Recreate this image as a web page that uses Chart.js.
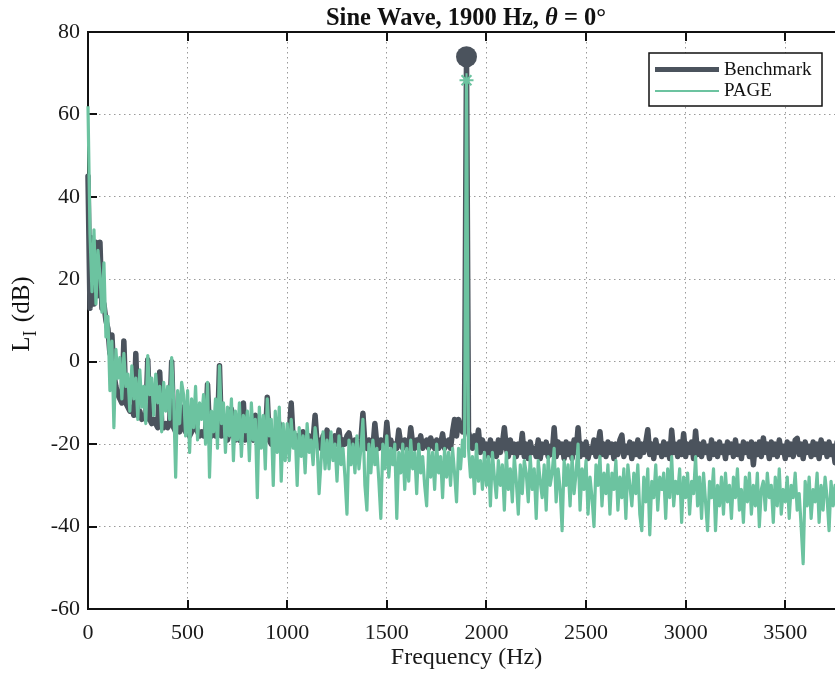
<!DOCTYPE html>
<html>
<head>
<meta charset="utf-8">
<script src="https://cdn.jsdelivr.net/npm/chart.js@4.4.1/dist/chart.umd.min.js"></script>
<style>
    html, body { margin: 0; padding: 0; background: #fff; overflow: hidden; }
    #wrap { width: 835px; height: 676px; overflow: hidden; }
    canvas { display: block; }
</style>
</head>
<body>
<div id="wrap"><canvas id="spectrumChart" width="850" height="676"></canvas></div>
<script>
// spectrum bins, 10 Hz apart, level in dB
const binStepHz = 10;

const benchmarkDb = [
    45, 13, 30, 14, 29, 16, 29, 13, 14, 10, 8, 2, 6.5, -3, -6, -8, -9, -10, 5, -10,
    -11, -12, -11, -13, 2, -13, -12, -14, -13, -14, 0.5, -14, -15, -14, -15, -16, -2.5, -15, -16, -15,
    -16, -15, 0, -16, -17, -16, -17, -16, -11, -17, -16, -18, -17, -16, -15, -17, -18, -17, -18, -17,
    -5.5, -17, -18, -17, -18, -17, -1, -18, -17, -18, -19, -17, -11.5, -18, -19, -18, -19, -18, -10, -19,
    -18, -19, -18, -19, -13, -18, -20, -19, -18, -19, -8.6, -19, -20, -18, -19, -18, -15, -19, -20, -18,
    -19, -18, -10, -19, -20, -18, -19, -21, -17, -19, -20, -18, -21, -19, -13, -20, -19, -21, -18, -20,
    -16.6, -20, -19, -21, -18, -20, -16.6, -21, -19, -20, -18, -17.3, -20, -21, -19, -20, -21, -19, -12.5, -20,
    -21, -19, -20, -21, -15, -20, -21, -19, -20, -21, -14.7, -20, -19, -21, -20, -21, -16.6, -20, -21, -19,
    -20, -21, -16, -20, -21, -19, -20, -18, -21, -20, -19, -21, -18.5, -20, -21, -19, -21, -20, -17.5, -21,
    -20, -19, -21, -17, -14, -18, -14, -16, -17, -15, 74, -17, -19, -21, -18, -20, -16.6, -22, -19, -21,
    -20, -23, -19, -22, -20, -23, -19, -22, -20, -16, -21, -23, -19, -22, -20, -23, -20, -22, -17.4, -23,
    -20, -23.5, -19.5, -22, -21, -23, -19, -23.5, -20, -22, -19.5, -23, -20.5, -22.5, -16, -23, -19.5, -22, -20, -23.5,
    -19.5, -22.5, -20, -23.5, -19, -22, -16, -23, -20, -22.5, -19.5, -23.5, -21, -22, -19, -23, -20, -17, -22.5, -20,
    -23, -19.5, -22, -20, -23.5, -20, -22.5, -19, -17.8, -23, -20.5, -22, -19.5, -23.5, -20, -22.5, -19, -23, -20, -22,
    -19.5, -16.5, -22.5, -20, -23.5, -19, -22, -20.5, -23, -19.5, -22.5, -20, -23.5, -16.6, -22, -20, -23, -19.5, -22.5, -17.5,
    -23, -20, -22, -19.5, -23.5, -16.8, -22.5, -20, -23, -19.5, -22, -20.5, -23.5, -19, -22.5, -20, -23, -19.5, -22, -20.5,
    -23.5, -19.5, -22, -20, -23, -19, -22.5, -20.5, -23.5, -19.5, -22, -20, -23, -19.5, -25, -20, -22.5, -19.5, -23, -18.5,
    -22, -20, -23.5, -19.5, -22.5, -20, -23, -19, -22, -20.5, -23.5, -19.5, -22.5, -20, -23, -19, -18.6, -22.5, -20, -23.5,
    -19.5, -22, -20.5, -23, -19.5, -22.5, -20, -23.5, -19, -22, -20, -23, -19.5, -22.5, -20.5, -24.5, -19.5, -22, -20, -23,
    -21
];

const pageDb = [
    62, 31, 17, 32, 14, 27, 21, 12, 24, 6, 11, -7, 5, -16, 3, -4, 1, -9, 2, -6,
    -3, -12, -1, -9, -4, -14, -2, -11, -6, -15, 1.5, -8, -4, -13, -3, -10, -6, -17, -5, -12,
    -6, -14, 1, -9, -28, -7, -15, -5, -8, -18, -7, -22, -9, -16, -6, -19, -10, -14, -8, -20,
    -5, -28, -12, -17, -9, -21, -1, -15, -10, -22, -11, -18, -9, -24, -12, -19, -10, -23, -13, -17,
    -12, -24, -10, -19, -14, -33, -11, -21, -13, -26, -9, -18, -14, -30, -12, -22, -11, -29, -15, -24,
    -15, -24, -14, -21, -17, -30, -16, -23, -18, -27, -15, -22, -19, -25, -16, -20, -32, -24, -17, -26,
    -19, -26, -17, -24, -20, -29, -18, -25, -21, -28, -37, -19, -25, -20, -27, -18, -26, -21, -14, -30,
    -36, -20, -27, -19, -25, -21, -29, -38, -20, -26, -18, -28, -21, -25, -20, -38, -22, -27, -20, -31,
    -21, -29, -19, -26, -22, -32, -20, -27, -23, -30, -35, -21, -28, -22, -31, -20, -27, -23, -33, -21,
    -28, -22, -30, -21, -27, -34, -21, -26, -19, -23, 68.3, -21, -28, -23, -32, -20, -29, -24, -31, -22,
    -30, -23, -35, -22, -28, -33, -24, -30, -25, -36, -22, -31, -26, -34, -23, -29, -37, -25, -32, -24,
    -27, -34, -23, -31, -26, -38, -24, -29, -33, -25, -36, -23, -30, -27, -21, -34, -26, -31, -41, -24,
    -30, -25, -35, -23, -32, -27, -20, -36, -26, -31, -24, -37, -28, -33, -40, -25, -30, -23, -35, -27,
    -32, -25, -37, -27, -31, -24, -36, -28, -33, -26, -38, -25, -30, -35, -27, -32, -25, -37, -41, -28,
    -34, -26, -42, -29, -33, -25, -36, -28, -31, -27, -38, -26, -33, -23, -35, -29, -32, -26, -39, -28,
    -33, -27, -37, -29, -32, -23, -35, -28, -38, -27, -34, -41, -29, -33, -26, -41, -30, -35, -28, -37,
    -27, -34, -30, -38, -28, -33, -26, -36, -31, -39, -28, -34, -27, -37, -30, -35, -27, -40, -31, -29,
    -36, -27, -33, -30, -39, -28, -35, -26, -37, -31, -34, -28, -38, -30, -33, -27, -36, -32, -40, -49,
    -29, -35, -28, -38, -31, -34, -27, -39, -30, -36, -28, -33, -41, -29, -35, -30, -37, -28, -34, -31,
    -33
];

const freqHz = benchmarkDb.map((_, i) => i * binStepHz);
const peakHz = 1900;

// axis ticks
const xTickValues = [0, 500, 1000, 1500, 2000, 2500, 3000, 3500];
const yTickValues = [-60, -40, -20, 0, 20, 40, 60, 80];

const serif = '"Liberation Serif", "Times New Roman", serif';
const darkColor = '#4b535d';
const greenColor = '#6cc3a0';

document.addEventListener('DOMContentLoaded', function() {
    const canvas = document.getElementById('spectrumChart');
    const ctx = canvas.getContext('2d');

    // frame, inward ticks, title, y label and legend
    const framePlugin = {
        id: 'framePlugin',
        beforeDatasetsDraw: function(chart) {
            const c = chart.ctx;
            const a = chart.chartArea;
            const x = chart.scales.x;
            const y = chart.scales.y;
            c.save();
            c.strokeStyle = '#111';
            c.lineWidth = 2;
            c.beginPath();
            c.moveTo(a.left, a.top);
            c.lineTo(a.right, a.top);
            xTickValues.forEach(function(v) {
                const px = Math.round(x.getPixelForValue(v));
                c.moveTo(px, a.bottom);
                c.lineTo(px, a.bottom - 9);
                c.moveTo(px, a.top);
                c.lineTo(px, a.top + 9);
            });
            yTickValues.forEach(function(v) {
                const py = Math.round(y.getPixelForValue(v));
                c.moveTo(a.left, py);
                c.lineTo(a.left + 9, py);
            });
            c.stroke();
            c.restore();
        },
        afterDraw: function(chart) {
            const c = chart.ctx;
            c.save();
            c.fillStyle = '#111';
            c.textBaseline = 'alphabetic';

            // title with italic theta
            const parts = [
                ['Sine Wave, 1900 Hz, ', 'bold'],
                ['\u03b8', 'italic bold'],
                [' = 0\u00b0', 'bold']
            ];
            let total = 0;
            parts.forEach(function(p) {
                c.font = p[1] + ' 24.5px ' + serif;
                total += c.measureText(p[0]).width;
            });
            let tx = 466 - total / 2;
            parts.forEach(function(p) {
                c.font = p[1] + ' 24.5px ' + serif;
                c.textAlign = 'left';
                c.fillText(p[0], tx, 25);
                tx += c.measureText(p[0]).width;
            });

            // y axis label L_I (dB)
            c.save();
            c.translate(29, 314);
            c.rotate(-Math.PI / 2);
            c.font = '25px ' + serif;
            const wL = c.measureText('L').width;
            c.font = '18px ' + serif;
            const wI = c.measureText('I').width + 2;
            c.font = '25px ' + serif;
            const wRest = c.measureText(' (dB)').width;
            let lx = -(wL + wI + wRest) / 2;
            c.textAlign = 'left';
            c.fillText('L', lx, 0);
            lx += wL;
            c.font = '18px ' + serif;
            c.fillText('I', lx, 7);
            lx += wI;
            c.font = '25px ' + serif;
            c.fillText(' (dB)', lx, 0);
            c.restore();

            // legend box
            const bx = 649, by = 53, bw = 173, bh = 53;
            c.fillStyle = '#fff';
            c.fillRect(bx, by, bw, bh);
            c.strokeStyle = '#111';
            c.lineWidth = 1.5;
            c.strokeRect(bx, by, bw, bh);
            c.lineCap = 'butt';
            c.strokeStyle = darkColor;
            c.lineWidth = 5;
            c.beginPath();
            c.moveTo(655, 69.5);
            c.lineTo(719, 69.5);
            c.stroke();
            c.strokeStyle = greenColor;
            c.lineWidth = 2;
            c.beginPath();
            c.moveTo(655, 91);
            c.lineTo(719, 91);
            c.stroke();
            c.fillStyle = '#111';
            c.font = '19px ' + serif;
            c.textAlign = 'left';
            c.textBaseline = 'middle';
            c.fillText('Benchmark', 724, 70);
            c.fillText('PAGE', 724, 91);
            c.restore();
        }
    };

    // 차트 생성
    new Chart(ctx, {
        type: 'line',
        data: {
            datasets: [
                {
                    label: 'PAGE',
                    data: freqHz.map(function(f, i) { return { x: f, y: pageDb[i] }; }),
                    borderColor: greenColor,
                    backgroundColor: greenColor,
                    borderWidth: 3.2,
                    borderJoinStyle: 'round',
                    pointStyle: 'star',
                    pointRadius: function(c) { return freqHz[c.dataIndex] === peakHz ? 7 : 0; },
                    pointBorderColor: greenColor,
                    pointBorderWidth: 2,
                    tension: 0,
                    clip: false,
                    order: 0
                },
                {
                    label: 'Benchmark',
                    data: freqHz.map(function(f, i) { return { x: f, y: benchmarkDb[i] }; }),
                    borderColor: darkColor,
                    backgroundColor: darkColor,
                    borderWidth: 5.5,
                    borderJoinStyle: 'round',
                    borderCapStyle: 'round',
                    pointStyle: 'circle',
                    pointRadius: function(c) { return freqHz[c.dataIndex] === peakHz ? 10.5 : 0; },
                    pointBorderWidth: 0,
                    tension: 0,
                    clip: false,
                    order: 1
                }
            ]
        },
        options: {
            responsive: false,
            animation: false,
            events: [],
            layout: { padding: { top: 32, right: 5, left: 0, bottom: 0 } },
            plugins: {
                legend: { display: false },
                title: { display: false },
                tooltip: { enabled: false }
            },
            scales: {
                x: {
                    type: 'linear',
                    min: 0,
                    max: 3800,
                    afterFit: function(s) { s.height = 67; },
                    afterBuildTicks: function(s) { s.ticks = xTickValues.map(function(v) { return { value: v }; }); },
                    grid: { color: '#9a9a9a', lineWidth: 1, drawTicks: false },
                    border: { color: '#111', width: 2, dash: [1.5, 3.5] },
                    ticks: {
                        padding: 11,
                        color: '#1a1a1a',
                        font: { family: serif, size: 22 },
                        maxRotation: 0,
                        callback: function(value) { return String(value); }
                    },
                    title: {
                        display: true,
                        text: 'Frequency (Hz)',
                        color: '#1a1a1a',
                        font: { family: serif, size: 24 },
                        padding: { top: 0 }
                    }
                },
                y: {
                    min: -60,
                    max: 80,
                    afterFit: function(s) { s.width = 88; },
                    afterBuildTicks: function(s) { s.ticks = yTickValues.map(function(v) { return { value: v }; }); },
                    grid: { color: '#9a9a9a', lineWidth: 1, drawTicks: false },
                    border: { color: '#111', width: 2, dash: [1.5, 3.5] },
                    ticks: {
                        padding: 8,
                        color: '#1a1a1a',
                        font: { family: serif, size: 22 },
                        callback: function(value) { return String(value); }
                    }
                }
            }
        },
        plugins: [framePlugin]
    });
});
</script>
</body>
</html>
